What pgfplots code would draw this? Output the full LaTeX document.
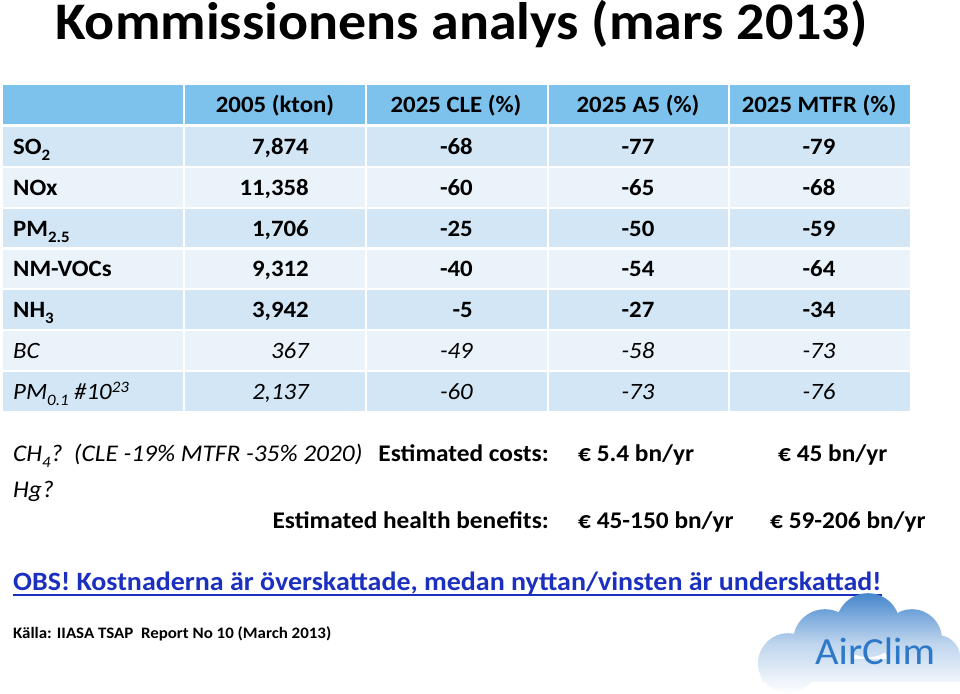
\documentclass[border=0pt]{standalone}
\usepackage{fontspec}
\setmainfont{Carlito}[FakeStretch=1.06]
\usepackage{pgfplots}
\pgfplotsset{compat=1.18}
\definecolor{hdr}{RGB}{124,194,236}
\definecolor{rowA}{RGB}{211,230,245}
\definecolor{rowB}{RGB}{234,242,250}
\definecolor{obs}{RGB}{28,48,192}
\definecolor{logoA}{RGB}{70,135,205}
\definecolor{logoT}{RGB}{45,120,200}
\newcommand{\tf}{\fontsize{23.5}{27}\selectfont}
\newcommand{\bt}{\fontsize{24}{28}\selectfont}
\newcommand{\sub}[1]{\raisebox{-6bp}{\fontsize{16}{18}\selectfont #1}}
\newcommand{\sups}[1]{\raisebox{7bp}{\fontsize{16}{18}\selectfont #1}}
% one row of five cells: colour, top, bottom
\newcommand{\cells}[3]{%
  \fill[#1] (3,#2) rectangle (183,#3);
  \fill[#1] (185,#2) rectangle (365,#3);
  \fill[#1] (367,#2) rectangle (547,#3);
  \fill[#1] (549,#2) rectangle (728,#3);
  \fill[#1] (730,#2) rectangle (910,#3);}
% one row of text: font, baseline, label, four values
\newcommand{\trow}[7]{%
  \node[anchor=base west, inner sep=0pt, font=\tf#1] at (13,#2) {#3};
  \node[anchor=base east, inner sep=0pt, font=\tf#1] at (309,#2) {#4};
  \node[anchor=base east, inner sep=0pt, font=\tf#1] at (473,#2) {#5};
  \node[anchor=base, inner sep=0pt, font=\tf#1] at (638,#2) {#6};
  \node[anchor=base, inner sep=0pt, font=\tf#1] at (819,#2) {#7};}
\begin{document}
\begin{tikzpicture}
\begin{axis}[scale only axis, width=960bp, height=681bp,
  xmin=0, xmax=960, ymin=0, ymax=681, y dir=reverse,
  hide axis, clip=false]
\fill[white] (0,0) rectangle (960,681);
% title
\node[anchor=base west, inner sep=0pt, font=\fontsize{53}{60}\selectfont\bfseries] at (55,38) {Kommissionens analys (mars 2013)};
% table cells
\cells{hdr}{84}{123}
\cells{rowA}{126}{164.6}
\cells{rowB}{166.8}{205.4}
\cells{rowA}{207.6}{246.2}
\cells{rowB}{248.4}{287}
\cells{rowA}{289.2}{327.8}
\cells{rowB}{330}{368.6}
\cells{rowA}{370.8}{409.4}
% header texts
\node[anchor=base, inner sep=0pt, font=\tf\bfseries] at (275,111.5) {2005 (kton)};
\node[anchor=base, inner sep=0pt, font=\tf\bfseries] at (456,111.5) {2025 CLE (\%)};
\node[anchor=base, inner sep=0pt, font=\tf\bfseries] at (638,111.5) {2025 A5 (\%)};
\node[anchor=base, inner sep=0pt, font=\tf\bfseries] at (819,111.5) {2025 MTFR (\%)};
% data rows
\trow{\bfseries}{153.3}{SO\sub{2}}{7,874}{-68}{-77}{-79}
\trow{\bfseries}{194.1}{NOx}{11,358}{-60}{-65}{-68}
\trow{\bfseries}{234.9}{PM\sub{2.5}}{1,706}{-25}{-50}{-59}
\trow{\bfseries}{275.7}{NM-VOCs}{9,312}{-40}{-54}{-64}
\trow{\bfseries}{316.5}{NH\sub{3}}{3,942}{-5}{-27}{-34}
\trow{\itshape}{357.3}{BC}{367}{-49}{-58}{-73}
\trow{\itshape}{398.1}{PM\sub{0.1} \#10\sups{23}}{2,137}{-60}{-73}{-76}
% bottom texts
\node[anchor=base west, inner sep=0pt, font=\bt\itshape] at (13,460) {CH\sub{4}?\ \ (CLE -19\% MTFR -35\% 2020)};
\node[anchor=base east, inner sep=0pt, font=\bt\bfseries] at (549,460) {Estimated costs:};
\node[anchor=base west, inner sep=0pt, font=\bt\bfseries] at (578,460) {€ 5.4 bn/yr};
\node[anchor=base west, inner sep=0pt, font=\bt\bfseries] at (778,460) {€ 45 bn/yr};
\node[anchor=base west, inner sep=0pt, font=\bt\itshape] at (13,496) {Hg?};
\node[anchor=base east, inner sep=0pt, font=\bt\bfseries] at (549,527) {Estimated health benefits:};
\node[anchor=base west, inner sep=0pt, font=\bt\bfseries] at (578,527) {€ 45-150 bn/yr};
\node[anchor=base west, inner sep=0pt, font=\bt\bfseries] at (770,527) {€ 59-206 bn/yr};
\node[anchor=base west, inner sep=0pt, font=\fontsize{26.5}{30}\selectfont\bfseries, text=obs] (obsn) at (13,589) {OBS! Kostnaderna är överskattade, medan nyttan/vinsten är underskattad!};
\draw[obs, line width=1.8bp] ([yshift=-4.5bp]obsn.base west) -- ([yshift=-4.5bp]obsn.base east);
\node[anchor=base west, inner sep=0pt, font=\fontsize{16}{18}\selectfont\bfseries] at (13,637) {Källa: IIASA TSAP\ \ Report No 10 (March 2013)};
% logo
\shade[top color=logoA, bottom color=white, middle color=logoA!35!white]
  (788,662) circle[radius=30bp]
  (825,640) circle[radius=32bp]
  (868,624) circle[radius=32bp]
  (912,638) circle[radius=30bp]
  (938,656) circle[radius=22bp]
  (762,658) rectangle (960,681);
\node[anchor=base west, inner sep=0pt, text=logoT, font=\fontsize{38.5}{46}\selectfont] at (815,663) {AirClim};
\end{axis}
\end{tikzpicture}
\end{document}
